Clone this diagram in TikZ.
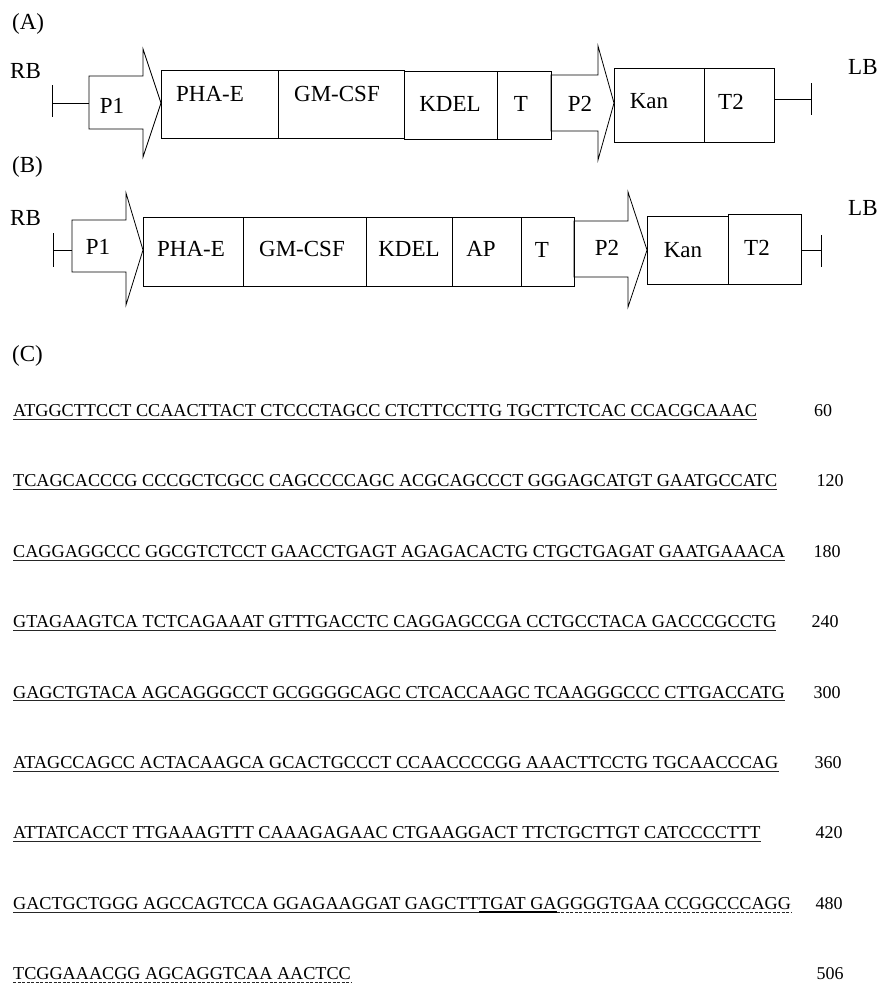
\documentclass[tikz,border=0pt]{standalone}
\usepackage{fontspec}
\setmainfont{Liberation Serif}
\begin{document}
\begin{tikzpicture}[x=1pt,y=-1pt,
  ln/.style={line width=0.8pt},
  box/.style={draw,line width=0.8pt,inner sep=0,minimum width=#1},
  boxA/.style={box=#1,minimum height=68pt},
  boxB/.style={box=#1,minimum height=69pt},
  partlabel/.style={font=\rmfamily\fontsize{23}{27}\selectfont,inner sep=0},
  head/.style={font=\rmfamily\fontsize{23}{27}\selectfont,inner sep=0,anchor=base west},
  seq/.style={font=\rmfamily\fontsize{18.2}{21}\selectfont,inner sep=0,anchor=base west},
  num/.style={font=\rmfamily\fontsize{18}{21}\selectfont,inner sep=0,anchor=base},
  ul/.style={line width=0.6pt,black!85},
  ulthick/.style={line width=1.8pt,black},
  uldash/.style={line width=0.6pt,black!85,dash pattern=on 3pt off 1.5pt},
]
\useasboundingbox (0,0) rectangle (879,988);

% ---------------- (A) ----------------
\node[head] (hA) at (12,29) {(A)};
\node[head] (rbA) at (10,78) {RB};
\node[head] (lbA) at (848,74) {LB};

\coordinate (tlA1) at (52,85);
\coordinate (tlA2) at (52,117);
\coordinate (tlA) at (52,103);
\coordinate (p1Abase) at (89,103);
\draw[ln] (tlA1) -- (tlA2);
\draw[ln] (tlA) -- (p1Abase);
\draw[ln] (89,76) -- (143,76) -- (143,49) -- (161,103) -- (143,157) -- (143,129) -- (89,129) -- cycle;
\node[partlabel] (p1A) at (112,106) {P1};

\node[boxA=117pt] (phaA) at (219.5,104) {};
\node[boxA=126pt] (gmA) at (341,104) {};
\node[boxA=93pt] (kdelA) at (450.5,105) {};
\node[boxA=54pt] (tA) at (524,105) {};
\node[partlabel] (lphaA) at (210,94) {PHA-E};
\node[partlabel] (lgmA) at (337,94) {GM-CSF};
\node[partlabel] (lkdelA) at (450,103.5) {KDEL};
\node[partlabel] (ltA) at (521,103.5) {T};

\draw[ln] (551,75) -- (598,75) -- (598,46) -- (614,103) -- (598,160) -- (598,131) -- (551,131) -- cycle;
\node[partlabel] (p2A) at (580,103.5) {P2};

\node[box=90pt,minimum height=74pt] (kanA) at (659,105) {};
\node[box=70pt,minimum height=74pt] (t2A) at (739,105) {};
\node[partlabel] (lkanA) at (649,101.5) {Kan};
\node[partlabel] (lt2A) at (731,101.5) {T2};

\coordinate (trA) at (811,99);
\coordinate (trA1) at (811,83);
\coordinate (trA2) at (811,115);
\draw[ln] (t2A.east |- trA) -- (trA);
\draw[ln] (trA1) -- (trA2);

% ---------------- (B) ----------------
\node[head] (hB) at (12,172) {(B)};
\node[head] (rbB) at (10,225) {RB};
\node[head] (lbB) at (848,215) {LB};

\coordinate (tlB1) at (53,233);
\coordinate (tlB2) at (53,267);
\coordinate (tlB) at (53,250);
\coordinate (p1Bbase) at (72,250);
\draw[ln] (tlB1) -- (tlB2);
\draw[ln] (tlB) -- (p1Bbase);
\draw[ln] (72,220) -- (126,220) -- (126,193) -- (143,250) -- (126,305) -- (126,272) -- (72,272) -- cycle;
\node[partlabel] (p1B) at (98,247) {P1};

\node[boxB=100pt] (phaB) at (193,251.5) {};
\node[boxB=123pt] (gmB) at (304.5,251.5) {};
\node[boxB=86pt] (kdelB) at (409,251.5) {};
\node[boxB=69pt] (apB) at (486.5,251.5) {};
\node[boxB=53pt] (tB) at (547.5,251.5) {};
\node[partlabel] (lphaB) at (191,248.5) {PHA-E};
\node[partlabel] (lgmB) at (302,248.5) {GM-CSF};
\node[partlabel] (lkdelB) at (409,248.5) {KDEL};
\node[partlabel] (lapB) at (481,249) {AP};
\node[partlabel] (ltB) at (542,250) {T};

\draw[ln] (574,221) -- (628,221) -- (628,192) -- (647,250) -- (628,307) -- (628,277) -- (574,277) -- cycle;
\node[partlabel] (p2B) at (607,247.5) {P2};

\node[box=81pt,minimum height=68pt] (kanB) at (687.5,250) {};
\node[box=73pt,minimum height=70pt] (t2B) at (764.5,249) {};
\node[partlabel] (lkanB) at (683,250) {Kan};
\node[partlabel] (lt2B) at (757,247.5) {T2};

\coordinate (trB) at (821,250);
\coordinate (trB1) at (821,235);
\coordinate (trB2) at (821,267);
\draw[ln] (t2B.east |- trB) -- (trB);
\draw[ln] (trB1) -- (trB2);

% ---------------- (C) ----------------
\node[head] (hC) at (12,361) {(C)};

\node[seq] (r1) at (13,416.5) {ATGGCTTCCT CCAACTTACT CTCCCTAGCC CTCTTCCTTG TGCTTCTCAC CCACGCAAAC};
\node[seq] (r2) at (13,486.9) {TCAGCACCCG CCCGCTCGCC CAGCCCCAGC ACGCAGCCCT GGGAGCATGT GAATGCCATC};
\node[seq] (r3) at (13,557.3) {CAGGAGGCCC GGCGTCTCCT GAACCTGAGT AGAGACACTG CTGCTGAGAT GAATGAAACA};
\node[seq] (r4) at (13,627.7) {GTAGAAGTCA TCTCAGAAAT GTTTGACCTC CAGGAGCCGA CCTGCCTACA GACCCGCCTG};
\node[seq] (r5) at (13,698.1) {GAGCTGTACA AGCAGGGCCT GCGGGGCAGC CTCACCAAGC TCAAGGGCCC CTTGACCATG};
\node[seq] (r6) at (13,768.5) {ATAGCCAGCC ACTACAAGCA GCACTGCCCT CCAACCCCGG AAACTTCCTG TGCAACCCAG};
\node[seq] (r7) at (13,838.9) {ATTATCACCT TTGAAAGTTT CAAAGAGAAC CTGAAGGACT TTCTGCTTGT CATCCCCTTT};
\node[seq] (r8a) at (13,909.3) {GACTGCTGGG AGCCAGTCCA GGAGAAGGAT GAGCTT};
\node[seq] (r8b) at (r8a.base east) {TGAT GA};
\node[seq] (r8c) at (r8b.base east) {GGGGTGAA CCGGCCCAGG};
\node[seq] (r9) at (13,979.7) {TCGGAAACGG AGCAGGTCAA AACTCC};

\foreach \r in {r1,r2,r3,r4,r5,r6,r7,r8a}{
  \draw[ul] ([yshift=-2.6pt]\r.base west) -- ([yshift=-2.6pt]\r.base east);
}
\draw[ulthick] ([yshift=-2.8pt]r8b.base west) -- ([yshift=-2.8pt]r8b.base east);
\draw[uldash] ([yshift=-2.6pt]r8c.base west) -- ([yshift=-2.6pt]r8c.base east);
\draw[uldash] ([yshift=-2.6pt]r9.base west) -- ([yshift=-2.6pt]r9.base east);

\node[num] (n1) at (823,416.5) {60};
\node[num] (n2) at (830,486.9) {120};
\node[num] (n3) at (827,557.3) {180};
\node[num] (n4) at (825,627.7) {240};
\node[num] (n5) at (827,698.1) {300};
\node[num] (n6) at (828,768.5) {360};
\node[num] (n7) at (829,838.9) {420};
\node[num] (n8) at (829,909.3) {480};
\node[num] (n9) at (830,979.7) {506};
\end{tikzpicture}
\end{document}
